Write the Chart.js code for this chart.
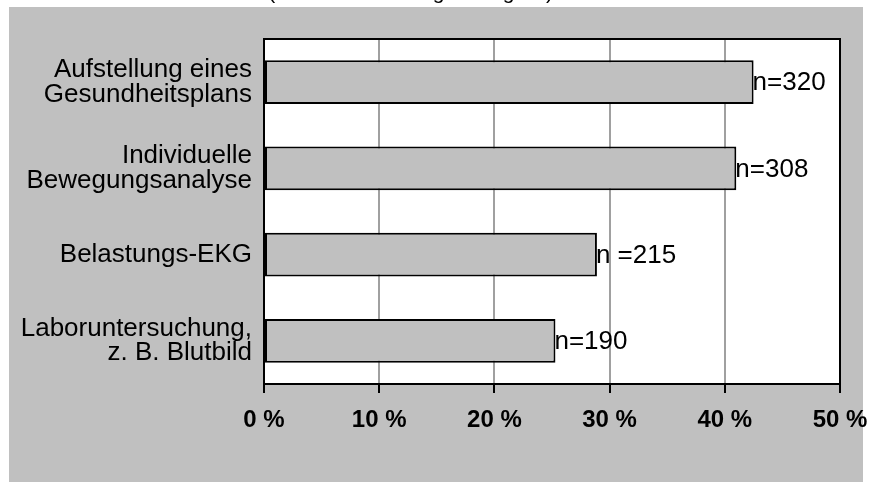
<!DOCTYPE html>
<html>
<head>
<meta charset="utf-8">
<script src="https://cdn.jsdelivr.net/npm/chart.js@4.4.1/dist/chart.umd.min.js"></script>
<style>
  html, body { margin: 0; padding: 0; background: #ffffff; }
  #wrap { width: 885px; height: 482px; }
</style>
</head>
<body>
<div id="wrap"><canvas id="chart" width="885" height="482"></canvas></div>
<script>
// Angebote, die genutzt wurden (Anteil der Befragten in %)
const categories = [
  ["Aufstellung eines", "Gesundheitsplans"],
  ["Individuelle", "Bewegungsanalyse"],
  "Belastungs-EKG",
  ["Laboruntersuchung,", "z. B. Blutbild"]
];
const shares = [42.5, 41.0, 28.9, 25.3];
const countLabels = ["n=320", "n=308", "n =215", "n=190"];
const xTickValues = [0, 10, 20, 30, 40, 50];
const titleText = "(Mehrfachnennungen möglich)";

const FONT = "'Liberation Sans', Arial, sans-serif";

// grey panel behind the chart plus the clipped heading line
const panelPlugin = {
  id: 'panel',
  beforeDraw(chart) {
    const ctx = chart.ctx;
    ctx.save();
    ctx.fillStyle = '#ffffff';
    ctx.fillRect(0, 0, chart.width, chart.height);
    ctx.fillStyle = '#c0c0c0';
    ctx.fillRect(9, 7, 854, chart.height - 7);
    const a = chart.chartArea;
    ctx.fillStyle = '#ffffff';
    ctx.fillRect(a.left, a.top, a.right - a.left, a.bottom - a.top);
    ctx.restore();
  },
  afterDraw(chart) {
    const ctx = chart.ctx;
    const a = chart.chartArea;
    ctx.save();
    ctx.strokeStyle = '#000000';
    ctx.lineWidth = 2;
    ctx.strokeRect(a.left, a.top, a.right - a.left, a.bottom - a.top);
    ctx.fillStyle = '#000000';
    ctx.font = "21px " + FONT;
    ctx.textAlign = 'right';
    ctx.textBaseline = 'alphabetic';
    ctx.fillText(titleText, 553, -1);
    ctx.restore();
  }
};

// "n=…" labels at the end of each bar
const countPlugin = {
  id: 'counts',
  afterDatasetsDraw(chart) {
    const ctx = chart.ctx;
    const meta = chart.getDatasetMeta(0);
    ctx.save();
    ctx.fillStyle = '#000000';
    ctx.font = "26px " + FONT;
    ctx.textAlign = 'left';
    ctx.textBaseline = 'middle';
    meta.data.forEach((bar, i) => {
      ctx.fillText(countLabels[i], bar.x - 1, bar.y + 1);
    });
    ctx.restore();
  }
};

new Chart(document.getElementById('chart'), {
  type: 'bar',
  data: {
    labels: categories,
    datasets: [{
      data: shares,
      backgroundColor: '#c0c0c0',
      borderColor: '#000000',
      borderWidth: 2,
      borderSkipped: false,
      categoryPercentage: 1.0,
      barPercentage: 0.51
    }]
  },
  options: {
    indexAxis: 'y',
    responsive: false,
    animation: false,
    devicePixelRatio: 1,
    layout: { padding: { top: 39, right: 45, bottom: 0, left: 0 } },
    plugins: {
      legend: { display: false },
      tooltip: { enabled: false },
      title: { display: false }
    },
    scales: {
      x: {
        min: 0,
        max: 50,
        afterBuildTicks(scale) {
          scale.ticks = xTickValues.map(v => ({ value: v }));
        },
        afterFit(scale) { scale.height = 98; },
        ticks: {
          color: '#000000',
          font: { family: FONT, size: 24, weight: 'bold' },
          padding: 13,
          maxRotation: 0,
          autoSkip: false,
          callback: v => v + ' %'
        },
        grid: {
          color: '#a0a0a0',
          lineWidth: 2,
          tickColor: '#000000',
          tickLength: 9,
          tickWidth: 2
        },
        border: { color: '#000000', width: 2 }
      },
      y: {
        afterFit(scale) { scale.width = 264; },
        ticks: {
          color: '#000000',
          font: { family: FONT, size: 26, lineHeight: 0.95 },
          padding: 12
        },
        grid: { display: false, drawTicks: false, tickLength: 0 },
        border: { display: true, color: '#000000', width: 2 }
      }
    }
  },
  plugins: [panelPlugin, countPlugin]
});
</script>
</body>
</html>
